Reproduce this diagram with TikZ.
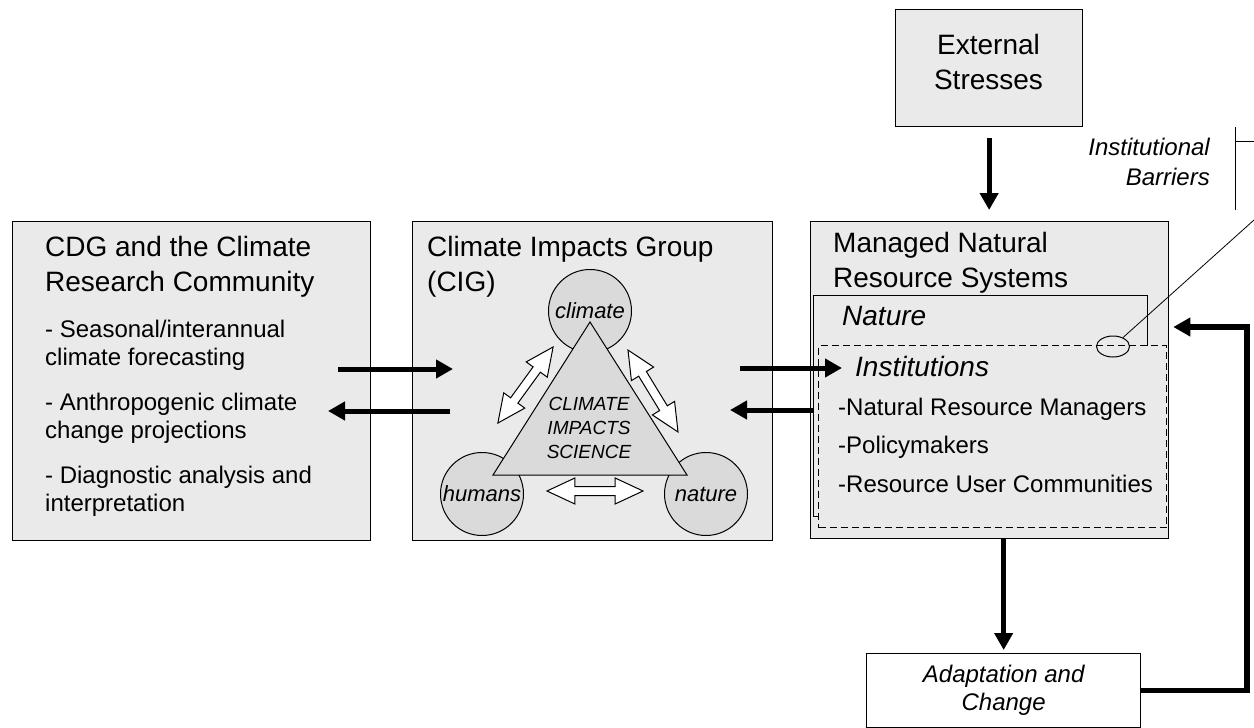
\documentclass[tikz,border=0pt]{standalone}
\usepackage{fontspec}
\setmainfont{Liberation Sans}
\usetikzlibrary{arrows.meta,positioning,shapes.geometric,shapes.arrows}
\definecolor{boxgray}{HTML}{EAEAEA}
\definecolor{bubblegray}{HTML}{DADADA}
\tikzset{%
	panel/.style     = {draw, rectangle, line width=1.3pt, fill=boxgray, anchor=north west, inner sep=0pt},
	heading/.style   = {font=\fontsize{28}{35}\selectfont, align=left, anchor=north west, inner sep=0pt},
	item/.style      = {font=\fontsize{24}{28}\selectfont, align=left, anchor=north west, inner sep=0pt},
	note/.style      = {font=\fontsize{24}{30}\selectfont\itshape, align=right, anchor=north east, inner sep=0pt},
	bubble/.style    = {draw, circle, line width=1pt, fill=bubblegray, minimum size=83pt, inner sep=0pt, font=\fontsize{22}{24}\selectfont\itshape},
	wedge/.style     = {draw, line width=1pt, fill=bubblegray, line join=miter},
	science/.style   = {font=\fontsize{19}{24}\selectfont\itshape, align=center, inner sep=0pt},
	twoway/.style    = {draw, double arrow, line width=1pt, fill=white, inner sep=4pt, double arrow head extend=8.5pt, double arrow tip angle=50},
	thickarrow/.style= {line width=5pt, -{Triangle[length=17pt,width=18pt]}},
	feedback/.style  = {line width=5.5pt, -{Triangle[length=17pt,width=18pt]}},
}
\begin{document}
\begin{tikzpicture}[x=1pt,y=-1pt]
	\useasboundingbox (0,0) rectangle (1254,728);
	% the three main panels
	\node[panel, minimum width=358, minimum height=319] (cdg) at (12,221) {};
	\node[panel, minimum width=360, minimum height=319] (cig) at (412,221) {};
	\node[panel, minimum width=358, minimum height=317] (mnrs) at (810,221) {};
	\node[panel, minimum width=187, minimum height=117] (ext) at (895,9) {};
	\node[panel, line width=1pt, minimum width=334, minimum height=221] (nature) at (813,295) {};
	\node[panel, line width=1pt, dash pattern=on 7pt off 4pt, minimum width=348, minimum height=182] (inst) at (818,345) {};
	\node[panel, fill=white, minimum width=274, minimum height=74, align=center, font=\fontsize{24}{28}\selectfont\itshape] (adapt) at (866,653) {Adaptation and\\Change};
	
	\node[heading] (cdgtitle) at (45,236.5) {CDG and the Climate\\Research Community};
	\node[item] (cdgitems) at (45,319.5) {- Seasonal/interannual\\climate forecasting\\[17pt]- Anthropogenic climate\\change projections\\[17pt]- Diagnostic analysis and\\interpretation};
	\node[heading] (cigtitle) at (427,236.5) {Climate Impacts Group\\(CIG)};
	\node[heading] (mnrstitle) at (833,232.5) {Managed Natural\\Resource Systems};
	\node[heading, font=\fontsize{28}{35}\selectfont\itshape] (naturetitle) at (842,306.5) {Nature};
	\node[heading, font=\fontsize{28}{35}\selectfont\itshape] (insttitle) at (855,356.5) {Institutions};
	\node[item, font=\fontsize{24}{38.5}\selectfont] (institems) at (838,397.5) {-Natural Resource Managers\\-Policymakers\\-Resource User Communities};
	\node[heading, align=center, anchor=center] (exttext) at (988.5,62) {External\\Stresses};
	\node[note] (barriertext) at (1210,137.5) {Institutional\\Barriers};
	
	% climate impacts science triangle
	\node[bubble] (climate) at (590,311) {climate};
	\node[bubble] (humans) at (482,494) {humans};
	\node[bubble] (naturebub) at (706,494) {nature};
	\draw[wedge] (590,322) -- (493,475) -- (687,475) -- cycle;
	\node[science] (cis) at (589,428) {CLIMATE\\IMPACTS\\SCIENCE};
	\node[twoway, minimum height=94, rotate=54] (link1) at (525.5,385) {};
	\node[twoway, minimum height=96, rotate=-58.6] (link2) at (653,391) {};
	\node[twoway, minimum height=96] (link3) at (595,491) {};
	
	% flows between panels
	\coordinate (toCIGa) at (338,369);
	\coordinate (toCIGb) at (453,369);
	\coordinate (toCDGa) at (450,411);
	\coordinate (toCDGb) at (328,411);
	\coordinate (toMNRa) at (740,368);
	\coordinate (toMNRb) at (842,368);
	\coordinate (backa) at (813,410);
	\coordinate (backb) at (730,410);
	\draw[thickarrow] (toCIGa) -- (toCIGb);
	\draw[thickarrow] (toCDGa) -- (toCDGb);
	\draw[thickarrow] (toMNRa) -- (toMNRb);
	\draw[thickarrow] (backa) -- (backb);
	\draw[thickarrow, shorten <=11pt, shorten >=11pt] (ext.south) -- (ext.south |- mnrs.north);
	\draw[thickarrow, shorten >=3pt] (adapt.north |- mnrs.south) -- (adapt.north);
	\coordinate (loop) at (1247,327);
	\draw[feedback, shorten >=4pt] (adapt.east) -| (loop) -- (loop -| mnrs.east);
	
	% institutional barriers callout
	\node[draw, ellipse, line width=1pt, minimum width=33, minimum height=21, inner sep=0pt] (barrier) at (1113,346.5) {};
	\coordinate (leadend) at (1254,220);
	\draw[line width=1pt] (1235,127) -- (1235,210);
	\draw[line width=1pt] (1235,141) -- (1254,141);
	\draw[line width=0.8pt] (leadend) -- (barrier);
\end{tikzpicture}
\end{document}
